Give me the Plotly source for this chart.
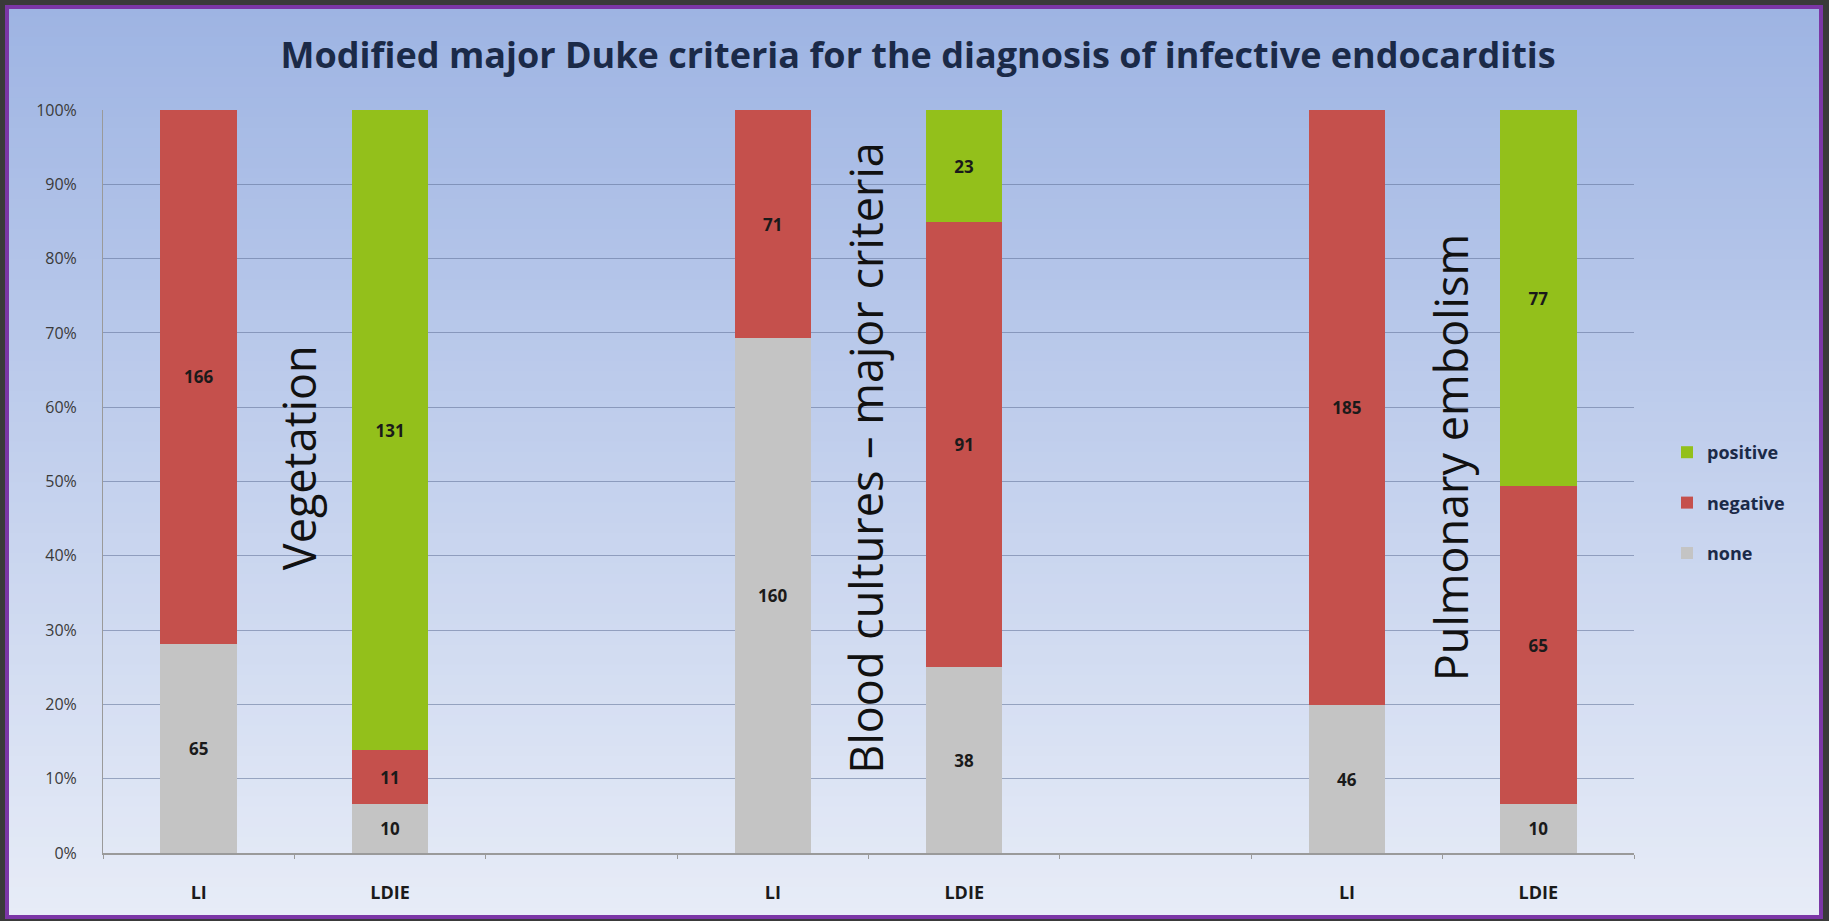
import plotly.graph_objects as go

# ---- data ----
categories = ["veg_LI", "veg_LDIE", "gap1", "bc_LI", "bc_LDIE", "gap2", "pe_LI", "pe_LDIE"]
tick_labels = ["LI", "LDIE", "", "LI", "LDIE", "", "LI", "LDIE"]
none_vals = [65, 10, None, 160, 38, None, 46, 10]
negative_vals = [166, 11, None, 71, 91, None, 185, 65]
positive_vals = [None, 131, None, None, 23, None, None, 77]
group_labels = ["Vegetation", "Blood cultures \u2013 major criteria", "Pulmonary embolism"]
group_label_pos = [0.52, 3.48, 6.54]
y_ticks = [0, 10, 20, 30, 40, 50, 60, 70, 80, 90, 100]
y_tick_labels = ["0%", "10%", "20%", "30%", "40%", "50%", "60%", "70%", "80%", "90%", "100%"]

title_text = "Modified major Duke criteria for the diagnosis of infective endocarditis"

# ---- layout geometry (pixels) ----
W, H = 1829, 921
ML, MR, MT, MB = 103, 195, 110, 68
PW = W - ML - MR
PH = H - MT - MB


def px_x(p):
    return (p - ML) / PW


def px_y(p):
    return (H - MB - p) / PH


FONT = "Open Sans"
colors = {"none": "#C4C4C4", "negative": "#C5504C", "positive": "#93C01B"}
ranks = {"positive": 1, "negative": 2, "none": 3}

fig = go.Figure()
for name, vals in [("none", none_vals), ("negative", negative_vals), ("positive", positive_vals)]:
    fig.add_trace(go.Bar(
        x=categories, y=vals, name=name, legendrank=ranks[name], legendgroup=name,
        marker=dict(color=colors[name], line=dict(width=0)),
        text=[("" if v is None else str(v)) for v in vals],
        textposition="inside", insidetextanchor="middle", textangle=0,
        textfont=dict(family=FONT, size=17, color="#1a1a1a", weight="bold"),
        width=0.4,
    ))

# background gradient bands
def lerp(c1, c2, t):
    return tuple(round(a + (b - a) * t) for a, b in zip(c1, c2))

top_c = (0x9E, 0xB4, 0xE3)
bot_c = (0xE7, 0xEC, 0xF7)
shapes = []
y0p, y1p = 6, 918
n = 90
step = (y1p - y0p) / n
for i in range(n):
    t = i / (n - 1)
    c = lerp(top_c, bot_c, t)
    a = y0p + i * step
    b = a + step + 0.8
    shapes.append(dict(type="rect", xref="paper", yref="paper", layer="below",
                       x0=px_x(6), x1=px_x(1822), y0=px_y(b), y1=px_y(a),
                       fillcolor="rgb(%d,%d,%d)" % c, line=dict(width=0)))
shapes.append(dict(type="rect", xref="paper", yref="paper", layer="above",
                   x0=px_x(7), x1=px_x(1821), y0=px_y(917), y1=px_y(7),
                   fillcolor="rgba(0,0,0,0)", line=dict(color="#7B36A6", width=4)))

annotations = []
for lab, pos in zip(group_labels, group_label_pos):
    annotations.append(dict(x=pos, y=px_y(458), xref="x", yref="paper", text=lab,
                            textangle=-90, showarrow=False,
                            font=dict(family=FONT, size=45, color="#111111", weight=500)))

fig.update_layout(
    width=W, height=H,
    margin=dict(l=ML, r=MR, t=MT, b=MB, autoexpand=False),
    paper_bgcolor="#3A3A3A", plot_bgcolor="rgba(0,0,0,0)",
    barmode="stack", barnorm="percent",
    title=dict(text=title_text, x=0.502, xref="container", xanchor="center",
               y=1 - 55 / H, yref="container", yanchor="middle",
               font=dict(family=FONT, size=36, color="#1B2A48", weight="bold")),
    xaxis=dict(type="category", categoryorder="array", categoryarray=categories,
               tickmode="array", tickvals=categories, ticktext=tick_labels,
               range=[-0.5, len(categories) - 0.5], tickson="boundaries",
               ticks="outside", ticklen=4, tickcolor="#9A9A9A",
               showline=True, linecolor="#9A9A9A", linewidth=2, showgrid=False,
               ticklabelstandoff=22,
               tickfont=dict(family=FONT, size=18, color="#1a1a1a", weight="bold")),
    yaxis=dict(range=[0, 100], tickmode="array", tickvals=y_ticks, ticktext=y_tick_labels,
               showline=True, linecolor="#9A9A9A", linewidth=1, showgrid=True,
               gridcolor="rgba(95,112,150,0.55)", gridwidth=1, zeroline=False,
               ticks="", ticklabelstandoff=22,
               tickfont=dict(family=FONT, size=16, color="#3a3a3a")),
    legend=dict(x=px_x(1667), xanchor="left", y=px_y(503), yanchor="middle",
                traceorder="grouped", tracegroupgap=24,
                bgcolor="rgba(0,0,0,0)",
                font=dict(family=FONT, size=18, color="#1B2A48", weight="bold"),
                itemwidth=30),
    shapes=shapes, annotations=annotations,
    showlegend=True,
)

fig.write_html("out.html")
